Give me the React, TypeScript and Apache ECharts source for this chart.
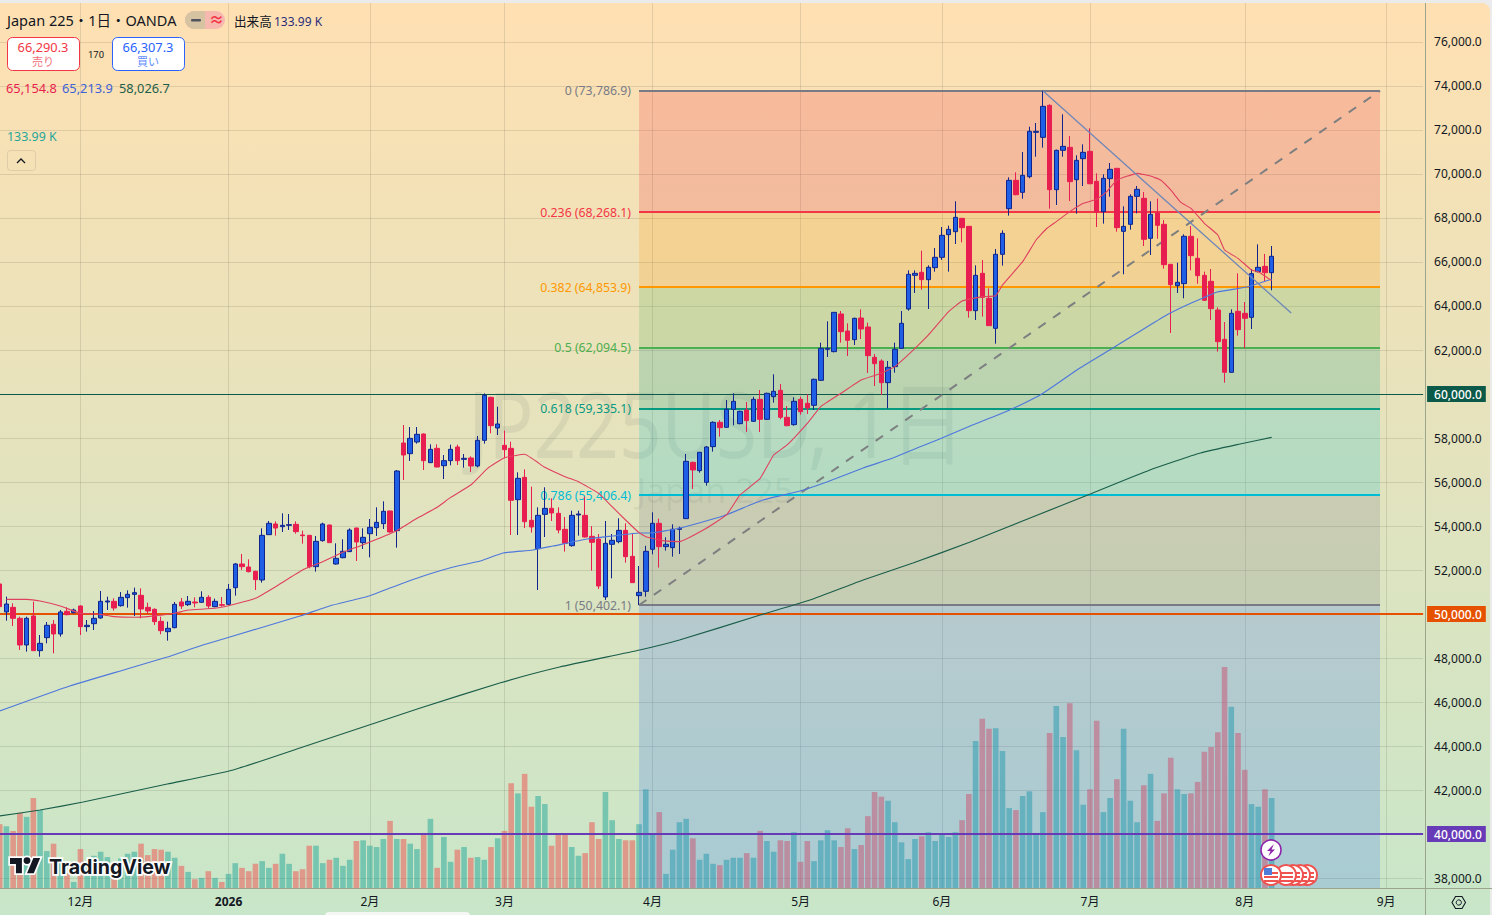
import React, { useEffect, useRef } from "react";
import * as echarts from "echarts";

// [open, close, low, high]
const ohlc: number[][] = [
[51364,50334,50031,51395],[50092,50455,49698,50788],[50304,49804,49455,50486],[49804,48592,48365,49880],[48592,49804,48289,49880],
[49910,48334,48334,50561],[48334,48667,48061,49046],[48925,49486,48667,49637],[49531,49092,48213,49728],[49092,50092,48971,50182],
[50122,49970,49940,50304],[50061,50182,50031,50243],[50364,49425,49046,50395],[49425,49486,49198,49728],[49561,49804,49273,50137],
[49819,50576,49789,51046],[50546,50591,50182,50788],[50576,50273,50152,50713],[50379,50758,50334,50999],[50743,50894,50288,51076],
[50894,50970,49910,51198],[50849,50228,49804,51167],[50304,50137,50001,50516],[50213,49652,49501,50258],[49667,49243,49077,49880],
[49198,49349,48789,49652],[49380,50440,49349,50546],[50546,50364,50228,50728],[50425,50576,50364,50819],[50546,50501,50304,50758],
[50531,50758,50516,51031],[50758,50364,50258,50849],[50334,50576,50304,50698],[50425,50395,50334,50773],[50440,51122,50410,51364],
[51198,52273,50834,52319],[52273,52152,52000,52728],[52137,51925,51894,52485],[51940,51561,51091,51970],[51546,53576,51425,53894],
[53606,54122,53591,54227],[54091,53909,53561,54212],[53970,54031,53728,54576],[54031,54061,53818,54546],[54076,53743,53652,54212],
[53591,53561,53197,53788],[53576,52152,52076,53591],[52152,53303,51925,53546],[53334,54091,53288,54152],[54046,53243,53243,54061],
[52273,52531,52243,53212],[52561,52849,52531,53394],[52834,53818,52819,53894],[53909,53273,52410,53924],[53243,53485,52955,53894],
[53652,53940,52576,54318],[53924,54167,53546,54849],[54106,54667,53864,55121],[54682,53728,53697,54697],[53788,56500,53015,56546],
[57773,57227,56091,58591],[57288,57985,56954,58500],[57818,58167,57742,58500],[58182,56970,56546,58212],[56879,57485,56864,57712],
[57530,56682,56667,57712],[56742,56970,56136,57227],[56970,57485,56758,57697],[57591,56970,56773,57697],[57030,57076,56652,57273],
[57091,56727,56455,57167],[56727,57894,56667,58091],[57894,59939,57742,60030],[59848,58560,58212,59879],[58454,58636,58136,59424],
[57667,57470,57076,58333],[57530,55167,53591,57833],[55197,56167,53591,56439],[56212,54197,53909,56576],[54258,53955,53697,55788],
[52970,54485,51091,54849],[54530,54803,53500,55758],[54803,54591,54228,55258],[54576,53818,53667,54849],[53849,53212,52834,54409],
[53106,54485,53061,54697],[54500,54546,53561,54697],[54485,53500,53470,55333],[53530,53258,51970,53997],[53409,51273,51137,53636],
[50773,53212,50637,54227],[53167,53349,51621,53636],[53288,53803,53212,54349],[53803,52606,52334,54121],[52621,51425,51425,53636],
[50834,50985,50402,52182],[51031,52849,50788,53100],[52941,54122,52714,54623],[54122,53062,52108,54335],[53062,53168,52880,53486],
[53017,53850,52608,54077],[53850,53895,52729,53971],[54335,56940,54320,57274],[56895,56546,55683,56925],[56516,57349,56425,57365],
[55986,57592,55834,57637],[57607,58713,57380,58758],[58713,58470,58062,58819],[58486,59304,58470,59728],[59304,59667,58577,60031],
[58652,59213,58622,59243],[59274,58789,58274,59637],[58758,59758,58728,59879],[59758,58849,58274,60182],[58849,60031,58819,60061],
[59879,60122,59607,60895],[60167,58940,58849,60455],[58940,58561,58531,59455],[58607,59667,58561,59849],[59758,59198,59061,59879],
[59577,59364,59092,59986],[59486,60667,59273,60698],[60622,62076,60591,62334],[62031,62076,61682,63303],[61925,63712,61895,63728],
[63637,62834,62334,63773],[62864,62440,61728,63213],[62470,63440,62228,63470],[63455,62955,62500,63849],[63046,61743,60955,63243],
[61667,61379,60364,61819],[61500,60516,59955,61576],[60516,61213,59349,61500],[61243,62031,60970,62334],[62077,63213,62046,63773],
[63864,65440,63788,65622],[65394,65485,64591,65622],[65531,65197,64743,66516],[65197,65758,63864,65849],[65743,66212,65561,66636],
[66212,67212,66091,67591],[67243,67485,65561,67652],[67379,68030,66818,68758],[67985,67561,66894,68000],[67621,63788,63470,67636],
[63788,65394,63364,65849],[65485,64394,63516,66091],[64349,63107,63107,64803],[62985,66349,62288,66591],[66349,67303,65834,67440],
[68424,69712,68106,69848],[69712,69061,69030,70076],[69167,69939,68879,71000],[69879,71939,69803,72151],[71894,71939,70788,72318],
[71666,73075,71197,73787],[73121,69288,68424,73166],[69288,71076,68591,71106],[71076,71257,70788,72712],[71212,69651,68773,71727],
[69742,70621,68197,70848],[70697,70985,69454,71348],[71030,69561,69530,72075],[69667,68258,67591,70030],[68288,69803,67743,69985],
[69788,70212,68970,70500],[70257,67561,67379,70273],[67394,67621,65440,68530],[67712,68985,67470,69076],[68985,69303,68212,69454],
[68894,67030,66727,69182],[67076,68167,66318,68758],[68227,67667,67061,68879],[67712,65879,65697,67909],[65894,64970,62773,65894],
[64925,65076,64591,65970],[65015,67167,64349,67258],[67167,66288,65621,67636],[66167,65379,65015,67076],[65394,64258,64228,65561],
[65121,63879,63364,65682],[63818,62379,61925,63940],[62485,60986,60516,63273],[60986,63667,60970,63849],[63758,62925,62652,65485],
[63667,63440,62076,64182],[63485,65470,62955,65667],[65561,65758,65530,66803],[65803,65515,65137,66364],[65515,66258,64713,66727],
];

// Volume in thousands
const volumes: number[] = [
95,92,85,112,106,134,116,55,66,44,22,9,58,37,48,54,46,27,44,51,54,66,49,58,57,54,45,33,24,13,15,25,15,9,21,37,30,25,36,40,30,36,51,36,25,28,63,63,37,42,
45,33,42,70,71,63,61,73,100,73,73,66,58,82,103,30,76,39,57,61,45,46,42,61,74,85,156,141,170,121,137,125,63,79,79,61,48,52,98,73,143,101,73,71,71,95,147,79,113,21,
57,98,103,74,42,51,36,34,42,45,45,52,45,85,70,54,71,70,83,39,70,40,71,86,71,61,89,58,64,107,143,136,130,98,68,43,73,77,83,70,79,76,83,101,140,219,252,237,238,204,
119,116,137,144,82,113,231,271,225,275,205,124,147,249,113,134,162,237,130,98,153,170,100,141,194,147,140,141,158,203,210,232,329,270,231,176,125,121,147,134,
];

// [bar index, price]
const maRed: number[][] = [
[1,50667],[4,50667],[6,50592],[9,50364],[12,50031],[15,49985],[17,49879],[20,49849],[22,49879],[26,50031],[28,50182],[32,50258],[35,50455],[38,50712],[41,51243],[45,51999],[48,52379],
[51,52803],[54,53152],[59,53788],[62,54349],[65,54849],[67,55303],[70,55864],[72.5,56621],[75,57106],[78,57258],[81,56667],[84,56242],[86,56015],[89,55485],[91,54879],[93,54273],[95,53697],
[96,53516],[98.5,53335],[101,53289],[105,53895],[108,54501],[110,55410],[113,56168],[115,57228],[117,57683],[120,58667],[122,59425],[125,60031],[128,60637],[131,60940],[133,61243],[135.5,61925],[138,62682],[141,63743],[143,64227],
[146,64425],[148,64470],[149,64955],[152,66015],[154,67000],[155.5,67500],[157,67834],[159,68288],[161,68667],[163,68849],[164.5,69197],[166,69727],[169,70030],[171,69909],[172.5,69727],[174,69273],[175.5,68712],[177,68439],[179,67758],[181,67227],[182,66546],[184,66167],[186,65637],[187,65561],[189,65155],
];
const maBlue: number[][] = [
[0,45591],[10.4,46727],[18.9,47500],[24.9,48045],[30.2,48591],[38.2,49318],[44.6,49909],[49,50364],[54.9,50818],[58,51182],[62.5,51682],[67.4,52136],[71.4,52409],[74.8,52773],[79.2,52909],[82.2,53091],[87.3,53409],[91.1,53545],[95.1,53682],[96.6,53682],
[101.1,53909],[107.5,54455],[113.4,55182],[118.9,55591],[122.9,56000],[128.3,56636],[132.7,57091],[136.3,57545],[139.3,57909],[144.2,58545],[150.1,59273],[154.6,59955],[160.5,61182],[165.4,62091],[169,62773],[173.4,63591],[176.4,64045],[178.8,64364],[180.9,64636],[185.3,64864],[189,65214],
];
const maGreen: number[][] = [
[0,40818],[6,41091],[12.4,41455],[24.9,42273],[34.7,42909],[44.6,43909],[62.5,45727],[74.3,46864],[83.2,47591],[95.1,48364],[101,48818],[113,49955],[120.4,50636],[128.3,51545],[135.7,52318],[144.2,53273],[153.1,54364],[161.3,55364],[170.9,56545],[178.4,57318],[184.3,57727],[189,58027],
];

const fibNames = ["0", "0.236", "0.382", "0.5", "0.618", "0.786", "1"];
const fibPrices = [73786.9, 68268.1, 64853.9, 62094.5, 59335.1, 55406.4, 50402.1];
const fibColors = ["#787b86", "#f23645", "#ff9800", "#4caf50", "#089981", "#00bcd4", "#787b86"];
const fibFills = ["rgba(242,54,69,.22)", "rgba(255,152,0,.2)", "rgba(76,175,80,.2)", "rgba(8,153,129,.2)", "rgba(0,188,212,.2)", "rgba(120,123,134,.22)", "rgba(41,98,255,.2)"];
const fibStart = 95;
const fibEnd = 205.1;

const dashedTrend = [[95, 50402.1], [205.1, 73786.9]];
const downTrend = [[155, 73786.9], [191.9, 63682]];

const hLinePrices = [60000, 50000, 40000];
const hLineColors = ["#0b5a49", "#e65100", "#673ab7"];
const hLineWidths = [1, 2, 2];

const priceTicks = [38000,40000,42000,44000,46000,48000,50000,52000,54000,56000,58000,60000,62000,64000,66000,68000,70000,72000,74000,76000];
const monthTicks = [12, 34, 55, 75, 97, 119, 140, 162, 185, 206];
const monthLabels = ["12月", "2026", "2月", "3月", "4月", "5月", "6月", "7月", "8月", "9月"];

const barCount = 212;
const categories = Array.from({ length: barCount }, (_, i) => String(i));

const SANS = '"Noto Sans","Noto Sans CJK JP",sans-serif';
const AXIS_LINE = "#9aa58c";

echarts.graphic.registerShape(
  "tvLogo",
  echarts.graphic.extendPath("M14 22H7V11H0V4h14v18zM28 22h-8l7.5-18h8L28 22zM24 7a4 4 0 1 1-8 0a4 4 0 1 1 8 0z", {}) as any
);

const fmt = (v: number) => v.toLocaleString("en-US", { minimumFractionDigits: 1, maximumFractionDigits: 1 });

function txt(text: string, x: number, y: number, fill: string, size = 12, extra: any = {}, z = 50) {
  return {
    type: "text", x, y, z, silent: true,
    ...(extra.scaleX ? { scaleX: extra.scaleX } : {}),
    style: {
      text, fill, font: `${extra.weight || "normal"} ${size}px ${extra.family || SANS}`,
      align: extra.align || "left", textAlign: extra.align || "left",
      verticalAlign: "middle", textVerticalAlign: "middle",
      ...(extra.stroke ? { stroke: extra.stroke, lineWidth: extra.lineWidth } : {}),
    },
  };
}
function box(x: number, y: number, w: number, h: number, r: number, fill: string, stroke?: string, z = 49) {
  return { type: "rect", z, silent: true, shape: { x, y, width: w, height: h, r }, style: { fill, stroke: stroke || "none", lineWidth: stroke ? 1 : 0 } };
}

function flag(cx: number, front: boolean, z: number) {
  const out: any[] = [
    { type: "circle", z, silent: true, shape: { cx, cy: 875, r: 10 }, style: { fill: "#fff", stroke: "#ef5350", lineWidth: 2 } },
  ];
  [-4, 0, 4].forEach((d) => {
    out.push({ type: "rect", z: z + 0.1, silent: true, shape: { x: cx - 7, y: 875 + d + 1, width: 14, height: 2 }, style: { fill: "#ef5350" } });
  });
  if (front) {
    out.push({ type: "rect", z: z + 0.2, silent: true, shape: { x: cx - 7, y: 868, width: 8, height: 7 }, style: { fill: "#4f7bd9" } });
  }
  return out;
}

const graphics: any[] = [
  txt("JP225USD, 1日", 716.5, 423, "rgba(90,100,100,0.1)", 92, { align: "center", scaleX: 0.81 }, 0) as any,
  txt("Japan 225", 715, 490, "rgba(90,100,100,0.1)", 34, { align: "center" }, 0) as any,

  txt("Japan 225・1日・OANDA", 7, 20, "#131722", 14.5),
  box(185, 11, 40, 18, 9, "#f7b8b0"),
  { type: "rect", z: 49.5, silent: true, shape: { x: 185, y: 11, width: 20, height: 18, r: [9, 0, 0, 9] }, style: { fill: "#d6c3a2" } },
  box(191, 19, 10, 2.5, 1, "#50535e", undefined, 50),
  txt("≈", 209, 19, "#f23645", 15, { weight: "bold" }),
  txt("出来高", 234, 21, "#131722", 12.6),
  txt("133.99 K", 274, 21, "#2a2e7a", 12),

  box(7.5, 37.5, 72, 33, 5, "#fff", "#f23645"),
  txt("66,290.3", 43, 47, "#f23645", 12.8, { align: "center" }),
  txt("売り", 43, 61, "#f2727d", 11, { align: "center" }),
  txt("170", 96, 54, "#131722", 9.5, { align: "center", family: "Roboto" }),
  box(112.5, 37.5, 72, 33, 5, "#fff", "#2962ff"),
  txt("66,307.3", 148, 47, "#2962ff", 12.8, { align: "center" }),
  txt("買い", 148, 61, "#5f8cff", 11, { align: "center" }),

  txt("65,154.8", 6, 88, "#e91e50", 12.8),
  txt("65,213.9", 62, 88, "#3f62d9", 12.8),
  txt("58,026.7", 119, 88, "#1b5e4a", 12.8),
  txt("133.99 K", 7, 136, "#26a69a", 12.4),
  box(7.5, 150.5, 28, 20, 3, "rgba(255,255,255,0)", "rgba(180,170,140,0.35)"),
  { type: "polyline", z: 50, silent: true, shape: { points: [[17, 163], [21, 159], [25, 163]] }, style: { stroke: "#131722", fill: "none", lineWidth: 1.3 } },

  { type: "line", z: 40, silent: true, shape: { x1: 1425.5, y1: 3, x2: 1425.5, y2: 915 }, style: { stroke: AXIS_LINE, lineWidth: 1 } },
  { type: "line", z: 40, silent: true, shape: { x1: 0, y1: 888.5, x2: 1492, y2: 888.5 }, style: { stroke: AXIS_LINE, lineWidth: 1 } },

  { type: "tvLogo", x: 10, y: 854.6, scaleX: 0.85, scaleY: 0.85, z: 60, silent: true, style: { fill: "#fff", stroke: "#fff", lineWidth: 4 } },
  { type: "tvLogo", x: 10, y: 854.6, scaleX: 0.85, scaleY: 0.85, z: 61, silent: true, style: { fill: "#131722" } },
  txt("TradingView", 49, 867, "#fff", 19.6, { weight: 700, family: "Inter", stroke: "#fff", lineWidth: 3.5 }, 60),
  txt("TradingView", 49, 867, "#131722", 19.6, { weight: 700, family: "Inter" }, 61),

  { type: "circle", z: 70, silent: true, shape: { cx: 1271, cy: 850, r: 10 }, style: { fill: "#fff", stroke: "#8e24aa", lineWidth: 1.6 } },
  { type: "polygon", z: 71, silent: true, shape: { points: [[1274, 844], [1267, 851], [1270.5, 851], [1268.5, 856], [1275, 849.5], [1271.5, 849.5]] }, style: { fill: "#8e24aa" } },
  ...flag(1307, false, 70),
  ...flag(1300, false, 71),
  ...flag(1293, false, 72),
  ...flag(1286, false, 73),
  ...flag(1271, true, 74),

  { type: "polygon", z: 50, silent: true, shape: { points: [[1452, 902.5], [1455.5, 896.5], [1462, 896.5], [1465.5, 902.5], [1462, 908.5], [1455.5, 908.5]] }, style: { fill: "none", stroke: "#131722", lineWidth: 1.1 } },
  { type: "circle", z: 50, silent: true, shape: { cx: 1458.8, cy: 902.5, r: 2.6 }, style: { fill: "none", stroke: "#131722", lineWidth: 1 } },
  box(325, 912, 145, 8, 6, "#f5f7f5", undefined, 80),
];

const yMin = 37545.5;
const yMax = 77772.7;

const option: any = {
  animation: false,
  backgroundColor: "transparent",
  textStyle: { fontFamily: SANS },
  grid: { left: -3.665, top: 3, width: 1426.76, height: 885, containLabel: false, outerBoundsMode: "none" },
  xAxis: [
    { type: "category", data: categories, show: false, gridIndex: 0 },
    {
      type: "value", gridIndex: 0, position: "bottom", min: -0.5, max: barCount - 0.5,
      axisLine: { show: false, onZero: false },
      axisTick: { show: false, customValues: monthTicks },
      splitLine: { show: true, lineStyle: { color: "rgba(90,90,70,0.16)", width: 1 } },
      axisLabel: {
        customValues: monthTicks, margin: 7, color: "#131722", fontSize: 12, fontFamily: SANS,
        formatter: (v: number) => {
          const s = monthLabels[monthTicks.indexOf(Math.round(v))] || "";
          return s === "2026" ? `{b|${s}}` : s;
        },
        rich: { b: { fontWeight: "bold", fontSize: 12, color: "#131722", fontFamily: SANS } },
      },
    },
  ],
  yAxis: [
    {
      type: "value", gridIndex: 0, position: "right", offset: 2, min: yMin, max: yMax, scale: true,
      axisLine: { show: false },
      axisTick: { show: false, customValues: priceTicks },
      splitLine: { show: true, lineStyle: { color: "rgba(90,90,70,0.16)", width: 1 } },
      axisLabel: {
        customValues: priceTicks, margin: 2, hideOverlap: false, showMinLabel: true, showMaxLabel: true,
        formatter: (v: number) => {
          const i = hLinePrices.indexOf(v);
          return i >= 0 ? `{t${i}|${fmt(v)}}` : `{p|${fmt(v)}}`;
        },
        rich: {
          p: { color: "#131722", fontSize: 12, fontFamily: SANS, padding: [2, 4, 2, 7] },
          t0: { color: "#fff", fontSize: 12, fontFamily: SANS, fontWeight: 500, padding: [2, 4, 2, 7], backgroundColor: hLineColors[0] },
          t1: { color: "#fff", fontSize: 12, fontFamily: SANS, fontWeight: 500, padding: [2, 4, 2, 7], backgroundColor: hLineColors[1] },
          t2: { color: "#fff", fontSize: 12, fontFamily: SANS, fontWeight: 500, padding: [2, 4, 2, 7], backgroundColor: hLineColors[2] },
        },
      },
    },
    { type: "value", gridIndex: 0, position: "right", show: false, min: 0, max: 1318, splitLine: { show: false } },
  ],
  series: [
    {
      name: "Volume", type: "bar", xAxisIndex: 0, yAxisIndex: 1, z: 1, barWidth: 5.6, silent: true,
      data: volumes.map((v, i) => ({
        value: v,
        itemStyle: { color: ohlc[i][1] >= ohlc[i][0] ? "rgba(38,166,154,.52)" : "rgba(239,83,80,.52)" },
      })),
    },
    {
      name: "Fib", type: "line", xAxisIndex: 1, yAxisIndex: 0, z: 2, silent: true, showSymbol: false,
      lineStyle: { opacity: 0 }, data: [[fibStart, fibPrices[0]]],
      markArea: {
        silent: true, z: 2,
        data: fibFills.map((fill, i) => [
          { xAxis: fibStart, yAxis: fibPrices[i], itemStyle: { color: fill } },
          { xAxis: fibEnd, yAxis: i + 1 < fibPrices.length ? fibPrices[i + 1] : yMin },
        ]),
      },
      markLine: {
        silent: true, z: 3, symbol: ["none", "none"], animation: false,
        data: [
          ...fibPrices.map((p, i) => [
            {
              xAxis: fibStart, yAxis: p,
              lineStyle: { color: fibColors[i], width: 2, type: "solid" },
              label: {
                show: true, position: "start", distance: 8, fontSize: 12.3, fontFamily: SANS, color: fibColors[i],
                formatter: `${fibNames[i]} (${fmt(p)})`,
              },
            },
            { xAxis: fibEnd, yAxis: p },
          ]),
          ...hLinePrices.map((p, i) => ({
            yAxis: p, label: { show: false },
            lineStyle: { color: hLineColors[i], width: hLineWidths[i], type: "solid" },
          })),
        ],
      },
    },
    {
      name: "JP225", type: "candlestick", xAxisIndex: 0, yAxisIndex: 0, z: 6, barWidth: 5, silent: true,
      data: ohlc,
      itemStyle: { color: "#1e5fe6", borderColor: "#10248c", color0: "#e91e50", borderColor0: "#e91e50", borderWidth: 1 },
    },
    {
      name: "MA200", type: "line", xAxisIndex: 1, yAxisIndex: 0, z: 7, showSymbol: false, silent: true, smooth: 0.15,
      data: maGreen, lineStyle: { color: "#1b5e4a", width: 1.2 },
    },
    {
      name: "MA75", type: "line", xAxisIndex: 1, yAxisIndex: 0, z: 7, showSymbol: false, silent: true, smooth: 0.15,
      data: maBlue, lineStyle: { color: "#4f78dc", width: 1.2 },
    },
    {
      name: "MA20", type: "line", xAxisIndex: 1, yAxisIndex: 0, z: 7, showSymbol: false, silent: true, smooth: 0.1,
      data: maRed, lineStyle: { color: "#e0405f", width: 1.1 },
    },
    {
      name: "Trend", type: "line", xAxisIndex: 1, yAxisIndex: 0, z: 5, showSymbol: false, silent: true,
      data: dashedTrend, lineStyle: { color: "#7d7f80", width: 2, type: [9, 9] },
    },
    {
      name: "Down", type: "line", xAxisIndex: 1, yAxisIndex: 0, z: 7, showSymbol: false, silent: true,
      data: downTrend, lineStyle: { color: "#6f87b8", width: 1.3 },
    },
  ],
  graphic: { elements: graphics },
};

export default function App() {
  const ref = useRef<HTMLDivElement>(null);
  useEffect(() => {
    const chart = echarts.init(ref.current!, undefined, { renderer: "svg", width: 1492, height: 915 });
    chart.setOption(option);
    return () => chart.dispose();
  }, []);
  return (
    <div style={{ position: "fixed", left: 0, top: 0, width: 1492, height: 915, overflow: "hidden", background: "#ebebeb" }}>
      <div style={{ position: "absolute", left: 0, top: 3, width: 1490, height: 912, borderTopRightRadius: 8, background: "linear-gradient(#ffe0b2, #c8e6c9)" }} />
      <div ref={ref} style={{ position: "absolute", left: 0, top: 0, width: 1492, height: 915 }} />
    </div>
  );
}
